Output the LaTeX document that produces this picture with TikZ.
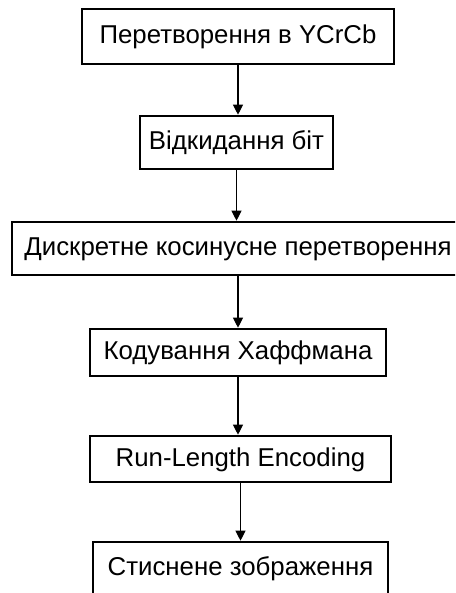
\documentclass[tikz,border=0pt]{standalone}
\usepackage{fontspec}
\setmainfont{Liberation Sans}
\usetikzlibrary{arrows.meta}
\begin{document}
\begin{tikzpicture}[x=1pt,y=-1pt,
    stage/.style={draw, line width=2.6pt, inner sep=0pt,
      font=\fontsize{25.8}{30}\selectfont, text height=19pt, text depth=5pt},
    flow/.style={line width=1.1pt, -{Triangle[width=10pt,length=10pt]}}]
  \useasboundingbox (0,0) rectangle (455,593);
  \clip (0,0) rectangle (455,593);
  \path
    (238,36.5) node[stage, minimum width=312pt, minimum height=55pt] (conv) {Перетворення в YCrCb}
    (236.5,142.5) node[stage, minimum width=193pt, minimum height=53pt] (drop) {Відкидання біт}
    (238,248.5) node[stage, minimum width=452pt, minimum height=53pt] (dct) {Дискретне косинусне перетворення}
    (238,352.5) node[stage, minimum width=296pt, minimum height=47pt] (huff) {Кодування Хаффмана}
    (240.5,459) node[stage, minimum width=301pt, minimum height=46pt] (rle) {Run-Length Encoding}
    (240.5,568) node[stage, minimum width=295pt, minimum height=52pt] (out) {Стиснене зображення};
  \begin{scope}[flow]
    \draw (conv.south) -- (conv.south |- drop.north);
    \draw (drop.south) -- (drop.south |- dct.north);
    \draw (dct.south) -- (dct.south |- huff.north);
    \draw (huff.south) -- (huff.south |- rle.north);
    \draw (rle.south) -- (rle.south |- out.north);
  \end{scope}
\end{tikzpicture}
\end{document}
